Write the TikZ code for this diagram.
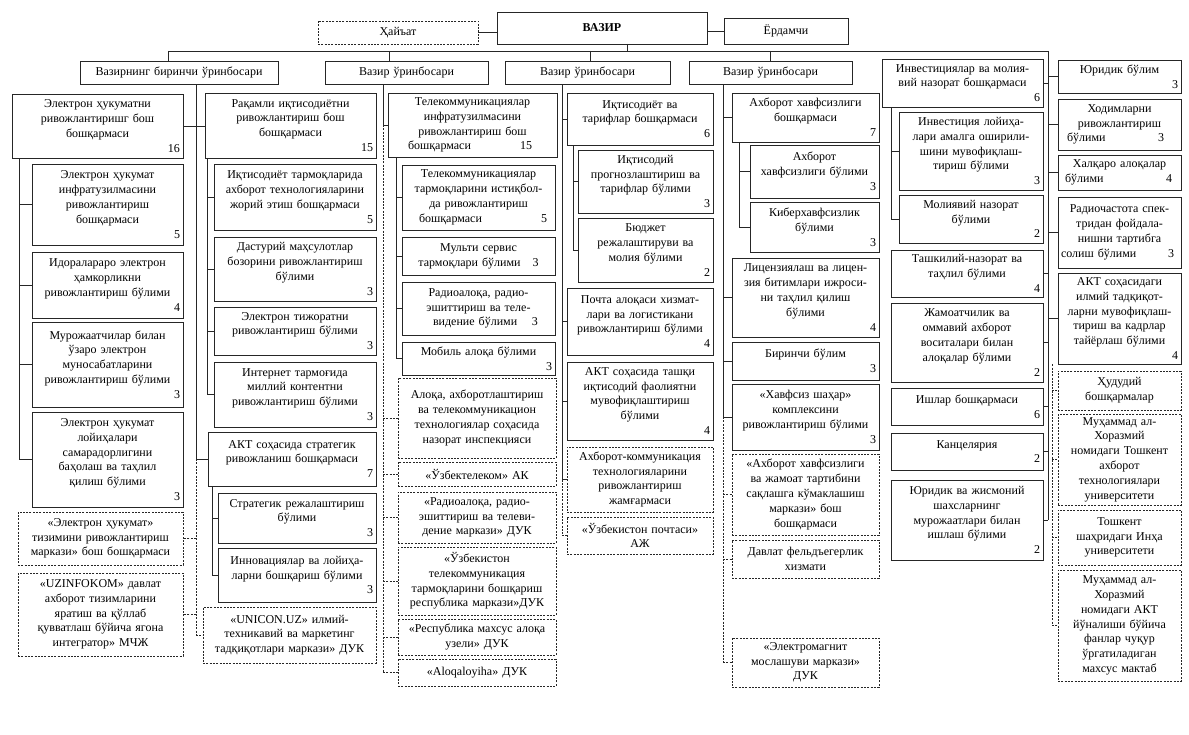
\documentclass[tikz,border=0pt]{standalone}
\usepackage{fontspec}
\setmainfont{Liberation Serif}
\newcommand\obox[7]{%
  \pgfmathsetmacro\obw{#5-#3}\pgfmathsetmacro\obh{#6-#4}%
  \pgfmathsetmacro\obcx{(#3+#5)/2}\pgfmathsetmacro\obcy{(#4+#6)/2}%
  \pgfmathsetmacro\obtw{#5-#3-6}%
  \node[#1,minimum width=\obw pt,minimum height=\obh pt,text width=\obtw pt] (#2) at (\obcx,\obcy) {#7};}
\newcommand\numr[1]{\\\makebox[\linewidth][r]{#1}}
\newcommand\numin[2]{\makebox[\linewidth]{#1\hfill #2}}
\tikzset{
  sbox/.style={draw=black!85, line width=0.7pt, align=center, inner sep=1pt,
    font=\fontsize{12}{14.8}\selectfont},
  dbox/.style={sbox, dash pattern=on 2pt off 1.3pt},
  conn/.style={draw=black!85, line width=0.7pt},
  dconn/.style={conn, dash pattern=on 2pt off 1.3pt}
}
\begin{document}
\begin{tikzpicture}[x=1pt,y=-1pt]
\useasboundingbox[fill=white] (0,0) rectangle (1189,735);
% header
\obox{dbox}{hay}{318}{21}{478}{44}{Ҳайъат}
\obox{sbox}{vazir}{497}{12}{707}{44}{\textbf{ВАЗИР}}
\obox{sbox}{yor}{724}{18}{848}{44}{Ёрдамчи}
\obox{sbox}{d1}{80}{61}{278}{84}{Вазирнинг биринчи ўринбосари}
\obox{sbox}{d2}{325}{61}{488}{84}{Вазир ўринбосари}
\obox{sbox}{d3}{505}{61}{670}{84}{Вазир ўринбосари}
\obox{sbox}{d4}{689}{61}{852}{84}{Вазир ўринбосари}
% column 1
\obox{sbox}{b1}{12}{94}{183}{158}{Электрон ҳукуматни\\ривожлантиришг бош\\бошқармаси\numr{16}}
\obox{sbox}{b1a}{32}{164}{183}{245}{Электрон ҳукумат\\инфратузилмасини\\ривожлантириш\\бошқармаси\numr{5}}
\obox{sbox}{b1b}{32}{252}{183}{318}{Идоралараро электрон\\ҳамкорликни\\ривожлантириш бўлими\numr{4}}
\obox{sbox}{b1c}{32}{322}{183}{407}{Мурожаатчилар билан\\ўзаро электрон\\муносабатларини\\ривожлантириш бўлими\numr{3}}
\obox{sbox}{b1d}{32}{412}{183}{507}{Электрон ҳукумат\\лойиҳалари\\самарадорлигини\\баҳолаш ва таҳлил\\қилиш бўлими\numr{3}}
\obox{dbox}{e1}{18}{512}{183}{565}{«Электрон ҳукумат»\\тизимини ривожлантириш\\маркази» бош бошқармаси}
\obox{dbox}{e2}{18}{573}{183}{656}{«UZINFOKOM» давлат\\ахборот тизимларини\\яратиш ва қўллаб\\қувватлаш бўйича ягона\\интегратор» МЧЖ}
% column 2
\obox{sbox}{rq}{205}{93}{376}{158}{Рақамли иқтисодиётни\\ривожлантириш бош\\бошқармаси\numr{15}}
\obox{sbox}{rq1}{214}{164}{376}{230}{Иқтисодиёт тармоқларида\\ахборот технологияларини\\жорий этиш бошқармаси\numr{5}}
\obox{sbox}{rq2}{214}{237}{376}{301}{Дастурий маҳсулотлар\\бозорини ривожлантириш\\бўлими\numr{3}}
\obox{sbox}{rq3}{214}{307}{376}{355}{Электрон тижоратни\\ривожлантириш бўлими\numr{3}}
\obox{sbox}{rq4}{214}{362}{376}{427}{Интернет тармоғида\\миллий контентни\\ривожлантириш бўлими\numr{3}}
\obox{sbox}{st}{208}{432}{376}{486}{АКТ соҳасида стратегик\\ривожланиш бошқармаси\numr{7}}
\obox{sbox}{st1}{218}{493}{376}{543}{Стратегик режалаштириш\\бўлими\numr{3}}
\obox{sbox}{st2}{218}{548}{376}{602}{Инновациялар ва лойиҳа-\\ларни бошқариш бўлими\numr{3}}
\obox{dbox}{un}{203}{607}{376}{663}{«UNICON.UZ» илмий-\\техникавий ва маркетинг\\тадқиқотлари маркази» ДУК}
% column 3
\obox{sbox}{tk}{388}{93}{557}{157}{Телекоммуникациялар\\инфратузилмасини\\ривожлантириш бош\\\numin{\hspace{17pt}бошқармаси}{15\hspace{22pt}}}
\obox{sbox}{tk1}{402}{165}{555}{230}{Телекоммуникациялар\\тармоқларини истиқбол-\\да ривожлантириш\\\numin{\hspace{14pt}бошқармаси}{5\hspace{5pt}}}
\obox{sbox}{tk2}{402}{237}{555}{275}{Мульти сервис\\тармоқлари бўлими\quad 3}
\obox{sbox}{tk3}{402}{282}{555}{335}{Радиоалоқа, радио-\\эшиттириш ва теле-\\\numin{\hspace{28pt}видение бўлими}{3\hspace{14pt}}}
\obox{sbox}{tk4}{402}{342}{555}{375}{Мобиль алоқа бўлими\numr{3}}
\obox{dbox}{c1}{398}{378}{556}{458}{Алоқа, ахборотлаштириш\\ва телекоммуникацион\\технологиялар соҳасида\\назорат инспекцияси}
\obox{dbox}{c2}{398}{462}{556}{486}{«Ўзбектелеком» АК}
\obox{dbox}{c3}{398}{492}{556}{543}{«Радиоалоқа, радио-\\эшиттириш ва телеви-\\дение маркази» ДУК}
\obox{dbox}{c4}{398}{547}{556}{615}{«Ўзбекистон\\телекоммуникация\\тармоқларини бошқариш\\республика маркази»ДУК}
\obox{dbox}{c5}{398}{619}{556}{655}{«Республика махсус алоқа\\узели» ДУК}
\obox{dbox}{c6}{398}{659}{556}{686}{«Aloqaloyiha» ДУК}
% column 4
\obox{sbox}{it}{567}{93}{713}{145}{Иқтисодиёт ва\\тарифлар бошқармаси\numr{6}}
\obox{sbox}{it1}{578}{150}{713}{213}{Иқтисодий\\прогнозлаштириш ва\\тарифлар бўлими\numr{3}}
\obox{sbox}{it2}{578}{218}{713}{282}{Бюджет\\режалаштируви ва\\молия бўлими\numr{2}}
\obox{sbox}{pc}{567}{288}{713}{355}{Почта алоқаси хизмат-\\лари ва логистикани\\ривожлантириш бўлими\numr{4}}
\obox{sbox}{tf}{567}{362}{713}{440}{АКТ соҳасида ташқи\\иқтисодий фаолиятни\\мувофиқлаштириш\\бўлими\numr{4}}
\obox{dbox}{ak}{567}{447}{713}{512}{Ахборот-коммуникация\\технологияларини\\ривожлантириш\\жамғармаси}
\obox{dbox}{up}{567}{517}{713}{554}{«Ўзбекистон почтаси»\\АЖ}
% column 5
\obox{sbox}{ax}{732}{93}{879}{142}{Ахборот хавфсизлиги\\бошқармаси\numr{7}}
\obox{sbox}{ax1}{750}{145}{879}{198}{Ахборот\\хавфсизлиги бўлими\numr{3}}
\obox{sbox}{ax2}{750}{202}{879}{252}{Киберхавфсизлик\\бўлими\numr{3}}
\obox{sbox}{li}{732}{258}{879}{337}{Лицензиялаш ва лицен-\\зия битимлари ижроси-\\ни таҳлил қилиш\\бўлими\numr{4}}
\obox{sbox}{bb}{732}{342}{879}{380}{Биринчи бўлим\numr{3}}
\obox{sbox}{hs}{732}{384}{879}{450}{«Хавфсиз шаҳар»\\комплексини\\ривожлантириш бўлими\numr{3}}
\obox{dbox}{aj}{732}{454}{879}{535}{«Ахборот хавфсизлиги\\ва жамоат тартибини\\сақлашга кўмаклашиш\\маркази» бош\\бошқармаси}
\obox{dbox}{df}{732}{540}{879}{578}{Давлат фельдъегерлик\\хизмати}
\obox{dbox}{em}{732}{638}{879}{687}{«Электромагнит\\мослашуви маркази»\\ДУК}
% column 6
\obox{sbox}{inv}{882}{59}{1043}{107}{Инвестициялар ва молия-\\вий назорат бошқармаси\numr{6}}
\obox{sbox}{inv1}{899}{112}{1043}{190}{Инвестиция лойиҳа-\\лари амалга оширили-\\шини мувофиқлаш-\\тириш бўлими\numr{3}}
\obox{sbox}{inv2}{899}{195}{1043}{243}{Молиявий назорат\\бўлими\numr{2}}
\obox{sbox}{tn}{891}{250}{1043}{297}{Ташкилий-назорат ва\\таҳлил бўлими\numr{4}}
\obox{sbox}{jm}{891}{303}{1043}{382}{Жамоатчилик ва\\оммавий ахборот\\воситалари билан\\алоқалар бўлими\numr{2}}
\obox{sbox}{ib}{891}{388}{1043}{425}{Ишлар бошқармаси\numr{6}}
\obox{sbox}{kn}{891}{433}{1043}{470}{Канцелярия\numr{2}}
\obox{sbox}{yj}{891}{480}{1043}{560}{Юридик ва жисмоний\\шахсларнинг\\мурожаатлари билан\\ишлаш бўлими\numr{2}}
% column 7
\obox{sbox}{yb}{1058}{60}{1181}{93}{Юридик бўлим\numr{3}}
\obox{sbox}{xd}{1058}{99}{1181}{150}{Ходимларни\\ривожлантириш\\\numin{\hspace{6pt}бўлими}{3\hspace{14pt}}}
\obox{sbox}{xq}{1058}{155}{1181}{190}{Халқаро алоқалар\\\numin{\hspace{4pt}бўлими}{4\hspace{6pt}}}
\obox{sbox}{rc}{1058}{197}{1181}{268}{Радиочастота спек-\\тридан фойдала-\\нишни тартибга\\\numin{солиш бўлими}{3\hspace{4pt}}}
\obox{sbox}{ai}{1058}{273}{1181}{364}{АКТ соҳасидаги\\илмий тадқиқот-\\ларни мувофиқлаш-\\тириш ва кадрлар\\тайёрлаш бўлими\numr{4}}
\obox{dbox}{hd}{1058}{371}{1181}{410}{Ҳудудий\\бошқармалар}
\obox{dbox}{tu}{1058}{414}{1181}{505}{Муҳаммад ал-\\Хоразмий\\номидаги Тошкент\\ахборот\\технологиялари\\университети}
\obox{dbox}{ih}{1058}{510}{1181}{565}{Тошкент\\шаҳридаги Инҳа\\университети}
\obox{dbox}{mm}{1058}{570}{1181}{681}{Муҳаммад ал-\\Хоразмий\\номидаги АКТ\\йўналиши бўйича\\фанлар чуқур\\ўргатиладиган\\махсус мактаб}
% ---------------- connectors
\draw[conn] (hay.east) -- (hay.east -| vazir.west);
\draw[conn] (yor.west -| vazir.east) -- (yor.west);
\coordinate (busL) at (168,51);
\coordinate (busR) at (1048,51);
\coordinate (vzd) at (627,44);
\coordinate (d2t) at (389,51);
\coordinate (d3t) at (590,51);
\coordinate (d4t) at (770,51);
\draw[conn] (busL) -- (busR);
\draw[conn] (vzd) -- (vzd |- busL);
\draw[conn] (busL) -- (busL |- d1.north);
\draw[conn] (d2t) -- (d2t |- d2.north);
\draw[conn] (d3t) -- (d3t |- d3.north);
\draw[conn] (d4t) -- (d4t |- d4.north);
% trunk 1
\coordinate (t1) at (196,0);
\draw[conn] (t1 |- d1.south) -- (t1 |- st.west);
\draw[conn] (b1.east) -- (b1.east -| rq.west);
\draw[conn] (t1 |- st.west) -- (st.west);
\draw[dconn] (t1 |- st.west) -- (t1 |- un.west);
\draw[dconn] (t1 |- e1.east) -- (e1.east);
\draw[dconn] (t1 |- e2.east) -- (e2.east);
\draw[dconn] (t1 |- un.west) -- (un.west);
\coordinate (s1) at (19,0);
\draw[conn] (s1 |- b1.south) -- (s1 |- b1d.west);
\foreach \n in {b1a,b1b,b1c,b1d} \draw[conn] (s1 |- \n.west) -- (\n.west);
\coordinate (s2) at (207,0);
\draw[conn] (s2 |- rq.south) -- (s2 |- rq4.west);
\foreach \n in {rq1,rq2,rq3,rq4} \draw[conn] (s2 |- \n.west) -- (\n.west);
\coordinate (s3) at (212,0);
\draw[conn] (s3 |- st.south) -- (s3 |- st2.west);
\foreach \n in {st1,st2} \draw[conn] (s3 |- \n.west) -- (\n.west);
% trunk 2
\coordinate (t2) at (383,0);
\draw[conn] (t2 |- d2.south) -- (t2 |- tk.west) -- (tk.west);
\draw[dconn] (t2 |- tk.west) -- (t2 |- c6.west);
\foreach \n in {c1,c2,c3,c4,c5,c6} \draw[dconn] (t2 |- \n.west) -- (\n.west);
\coordinate (s4) at (396,0);
\draw[conn] (s4 |- tk.south) -- (s4 |- tk4.west);
\foreach \n in {tk1,tk2,tk3,tk4} \draw[conn] (s4 |- \n.west) -- (\n.west);
% trunk 3
\coordinate (t3) at (562,0);
\draw[conn] (t3 |- d3.south) -- (t3 |- ak.west);
\foreach \n in {it,pc,tf,ak} \draw[conn] (t3 |- \n.west) -- (\n.west);
\draw[dconn] (t3 |- ak.west) -- (t3 |- up.west) -- (up.west);
\coordinate (s5) at (573,0);
\draw[conn] (s5 |- it.south) -- (s5 |- it2.west);
\foreach \n in {it1,it2} \draw[conn] (s5 |- \n.west) -- (\n.west);
% trunk 4
\coordinate (t4) at (723,0);
\draw[conn] (t4 |- d4.south) -- (t4 |- hs.west);
\foreach \n in {ax,li,bb,hs} \draw[conn] (t4 |- \n.west) -- (\n.west);
\draw[dconn] (t4 |- hs.west) -- (t4 |- em.west);
\foreach \n in {aj,df,em} \draw[dconn] (t4 |- \n.west) -- (\n.west);
\coordinate (s6) at (739,0);
\draw[conn] (s6 |- ax.south) -- (s6 |- ax2.west);
\foreach \n in {ax1,ax2} \draw[conn] (s6 |- \n.west) -- (\n.west);
% right trunk
\draw[conn] (busR) -- (busR |- yj.east);
\foreach \n in {inv,tn,jm,ib,kn,yj} \draw[conn] (busR |- \n.east) -- (\n.east);
\foreach \n in {yb,xd,xq,rc,ai} \draw[conn] (busR |- \n.west) -- (\n.west);
\coordinate (t6) at (1052,0);
\draw[dconn] (t6 |- ai.south) -- (t6 |- mm.west);
\foreach \n in {hd,tu,ih,mm} \draw[dconn] (t6 |- \n.west) -- (\n.west);
\coordinate (s7) at (891,0);
\draw[conn] (s7 |- inv.south) -- (s7 |- inv2.west);
\foreach \n in {inv1,inv2} \draw[conn] (s7 |- \n.west) -- (\n.west);
\end{tikzpicture}
\end{document}
